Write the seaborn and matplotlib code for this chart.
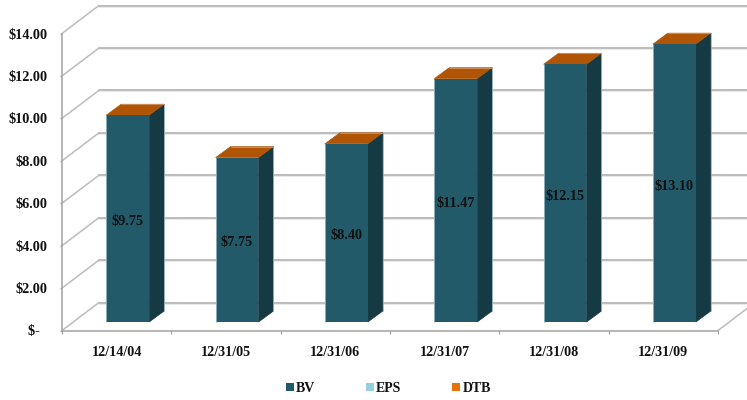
import matplotlib
matplotlib.use("Agg")
import matplotlib.pyplot as plt
import numpy as np
import pandas as pd
import seaborn as sns
from matplotlib.patches import Patch, Polygon
from matplotlib.transforms import Affine2D, IdentityTransform

# Book value per share at each period end
dates = ["12/14/04", "12/31/05", "12/31/06", "12/31/07", "12/31/08", "12/31/09"]
bv = [9.75, 7.75, 8.40, 11.47, 12.15, 13.10]
y_ticks = [0, 2, 4, 6, 8, 10, 12, 14]
y_tick_labels = ["$-  ", "$2.00", "$4.00", "$6.00", "$8.00", "$10.00", "$12.00", "$14.00"]
series_names = ["BV", "EPS", "DTB"]
legend_colors = ["#235a6b", "#96cfe0", "#e8720c"]

FRONT = "#235a6a"
SIDE = "#163a44"
TOP = "#b05505"
GRID = "#bcbcbc"
AXIS = "#a2a2a2"
INK = "#111111"
HIGHLIGHT = "#9dbcc5"

sns.set_theme(style="white")
plt.rcParams["font.family"] = ["Liberation Serif", "DejaVu Serif"]
plt.rcParams["font.weight"] = "bold"

W, H = 747, 400
fig = plt.figure(figsize=(W / 100, H / 100), dpi=100)
ax = fig.add_axes([62 / W, (H - 330.5) / H, 656 / W, 297 / H])

bar_width = 0.393
frame = pd.DataFrame({"date": dates, "bv": bv})
sns.barplot(data=frame, x="date", y="bv", color=FRONT, saturation=1,
            width=bar_width, ax=ax)
ax.set_xlim(-0.5, len(dates) - 0.5)
ax.set_ylim(0, 14)
ax.set_xlabel("")
ax.set_ylabel("")
ax.patch.set_visible(False)

# Pixel offsets of the oblique projection: rear wall, bar plane, bar depth
wall = np.array([37.0, 28.0])
plane = np.array([11.0, 8.5])
depth = np.array([15.0, 11.0])
plane_tf = ax.transData + Affine2D().translate(*plane)
wall_tf = ax.transData + Affine2D().translate(*wall)
px = IdentityTransform()


def to_px(x, y, shift=(0.0, 0.0)):
    return ax.transData.transform((x, y)) + np.asarray(shift)


def px_line(a, b, color, lw, z):
    ax.plot([a[0], b[0]], [a[1], b[1]], color=color, lw=lw, transform=px,
            zorder=z, clip_on=False)


# Rear wall gridlines with a faint band under each, plus the diagonal wall ties
left, right = ax.get_xlim()
for tick in y_ticks:
    ax.plot([left, right + 0.3], [tick, tick], color="#e6e6e6", lw=1.2, zorder=1,
            transform=wall_tf + Affine2D().translate(0, -1), clip_on=False)
    ax.plot([left, right + 0.3], [tick, tick], color=GRID, lw=1.4, zorder=1.1,
            transform=wall_tf, clip_on=False)
    px_line(to_px(left, tick), to_px(left, tick, wall), GRID, 1.1, 1.2)
px_line(to_px(right, 0), to_px(right, 0, wall), GRID, 1.1, 1.2)

# Front faces come from seaborn; shift them onto the bar plane and add side and top
for patch in ax.patches:
    patch.set_transform(plane_tf)
    patch.set_clip_on(False)
    patch.set_zorder(3)
    patch.set_edgecolor("none")

for i, value in enumerate(bv):
    x0, x1 = i - bar_width / 2, i + bar_width / 2
    back = plane + depth
    ax.add_patch(Polygon([to_px(x1, 0, plane), to_px(x1, value, plane),
                          to_px(x1, value, back), to_px(x1, 0, back)],
                         facecolor=SIDE, edgecolor=SIDE, lw=0.5, transform=px,
                         zorder=2.9, clip_on=False))
    ax.add_patch(Polygon([to_px(x0, value, plane), to_px(x1, value, plane),
                          to_px(x1, value, back), to_px(x0, value, back)],
                         facecolor=TOP, edgecolor=TOP, lw=0.4, transform=px,
                         zorder=2.95, clip_on=False))
    # Thin bevel highlights along the outer edges of each bar
    px_line(to_px(x0, 0, plane), to_px(x0, value, plane), HIGHLIGHT, 0.6, 3.1)
    px_line(to_px(x1, 0, back), to_px(x1, value, back), HIGHLIGHT, 0.6, 3.1)
    px_line(to_px(x0, value, back), to_px(x1, value, back), "#cf9463", 0.6, 3.1)
    ax.text(i, value / 2, f"${value:.2f}", transform=plane_tf + Affine2D().translate(0, -3),
            ha="center", va="center", fontsize=10.3, fontweight="bold", color=INK,
            zorder=5, clip_on=False)

# Axes, ticks and tick labels
sns.despine(ax=ax, top=True, right=True)
for side in ("left", "bottom"):
    ax.spines[side].set_color(AXIS)
    ax.spines[side].set_linewidth(1.1)
    ax.spines[side].set_zorder(2)

ax.set_yticks(y_ticks, y_tick_labels)
ax.set_xticks(range(len(dates)), dates)
ax.set_xticks(np.arange(-0.5, len(dates)), minor=True)
ax.tick_params(axis="x", which="major", length=0, pad=11.5, labelsize=10.2, labelcolor=INK)
ax.tick_params(axis="x", which="minor", length=2.5, width=0.9, color=AXIS, bottom=True)
ax.tick_params(axis="y", length=1.6, width=0.9, color=AXIS, left=True, pad=9,
               labelsize=10.3, labelcolor=INK)

handles = [Patch(facecolor=c, edgecolor="none", label=n)
           for c, n in zip(legend_colors, series_names)]
fig.legend(handles=handles, loc="center left", bbox_to_anchor=(286 / W, (H - 388.5) / H),
           ncol=3, frameon=False, fontsize=10, handlelength=0.58, handleheight=0.58,
           handletextpad=0.15, columnspacing=3.65, borderpad=0, borderaxespad=0,
           labelcolor=INK)

fig.savefig("out.png", dpi=100, facecolor="white")
